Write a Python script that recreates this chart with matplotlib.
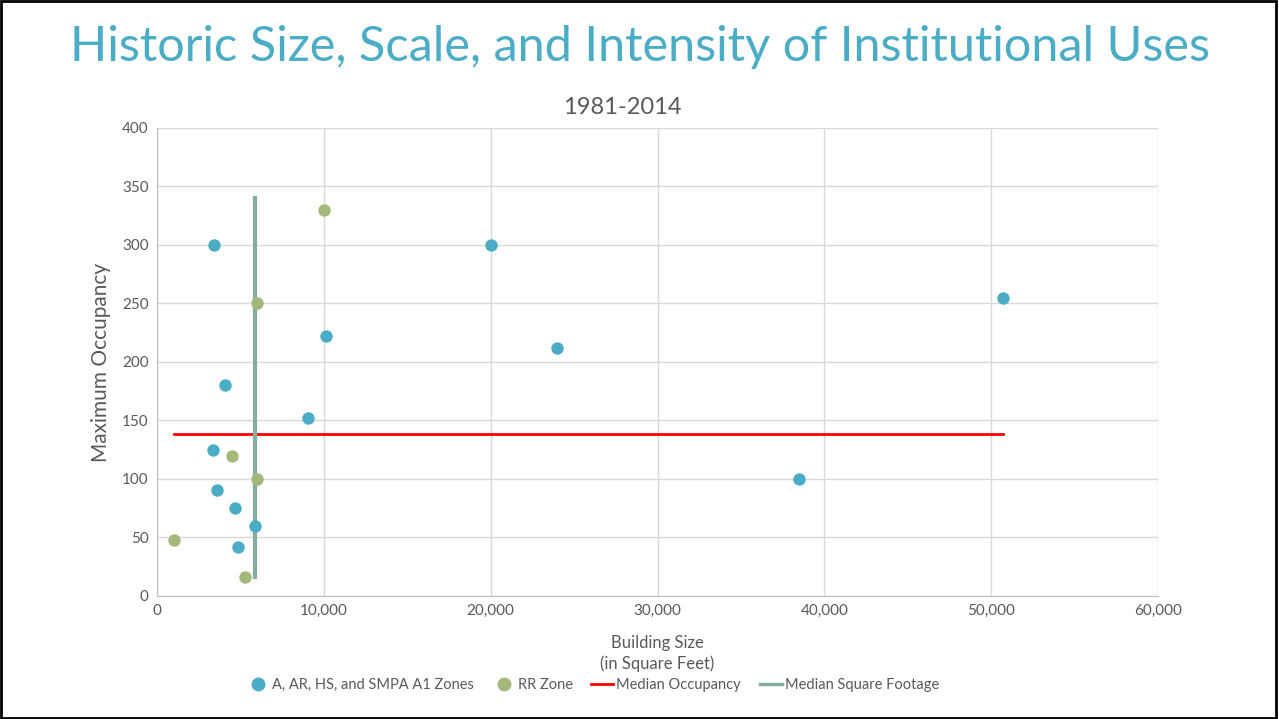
import matplotlib.pyplot as plt
from matplotlib.lines import Line2D
import matplotlib.patches as patches

# Puntos de la zona A, AR, HS y SMPA A1
zona_a_tamano = [3400, 10100, 4100, 9050, 3350, 3600, 4700, 5850, 4850, 20000, 24000, 50700, 38500]
zona_a_ocupacion = [300, 222, 180, 152, 125, 91, 75, 60, 42, 300, 212, 255, 100]

# Puntos de la zona RR
zona_rr_tamano = [10000, 6000, 4500, 6000, 1000, 5300]
zona_rr_ocupacion = [330, 250, 120, 100, 48, 16]

# Medianas
mediana_ocupacion_x = [1000, 50700]
mediana_ocupacion_y = [138.5, 138.5]
mediana_pies_x = [5850, 5850]
mediana_pies_y = [340, 16]

azul = '#4BACC6'
verde = '#A3B87A'
gris = '#595959'

plt.rcParams['font.family'] = ['Lato', 'DejaVu Sans']

fig = plt.figure(figsize=(12.79, 7.19), dpi=100)
ax = fig.add_axes([0.1228, 0.1711, 0.7826, 0.6509])

ax.plot(mediana_ocupacion_x, mediana_ocupacion_y, color='#FF0000', lw=2, zorder=2)
ax.plot(mediana_pies_x, mediana_pies_y, color='#85AE9D', lw=3, zorder=2)
ax.scatter(zona_a_tamano, zona_a_ocupacion, s=80, color=azul, zorder=3, linewidths=0)
ax.scatter(zona_rr_tamano, zona_rr_ocupacion, s=80, color=verde, zorder=3, linewidths=0)

ax.set_xlim(0, 60000)
ax.set_ylim(0, 400)
ax.set_xticks(range(0, 60001, 10000))
ax.set_yticks(range(0, 401, 50))
ax.xaxis.set_major_formatter(plt.FuncFormatter(lambda v, p: f'{int(v):,}'))
ax.grid(True, color='#D9D9D9', lw=1)
ax.set_axisbelow(True)
for s in ['top', 'right']:
    ax.spines[s].set_visible(False)
for s in ['left', 'bottom']:
    ax.spines[s].set_color('#BFBFBF')
ax.tick_params(length=0, colors=gris, labelsize=11, pad=6)

ax.set_xlabel('Building Size\n(in Square Feet)', color=gris, fontsize=12, labelpad=12, linespacing=1.35)
ax.set_ylabel('Maximum Occupancy', color=gris, fontsize=15, labelpad=8)

# titulo del grafico centrado en el area del grafico (incluye la etiqueta del eje y)
fig.text(622 / 1279, 1 - 108 / 719, '1981-2014', ha='center', va='center', color=gris, fontsize=17)

fig.text(0.5, 0.935, 'Historic Size, Scale, and Intensity of Institutional Uses',
         ha='center', va='center', color=azul, fontsize=35, fontweight='normal')

handles = [
    Line2D([], [], marker='o', ls='', color=azul, markersize=9),
    Line2D([], [], marker='o', ls='', color=verde, markersize=9),
    Line2D([], [], color='#FF0000', lw=2),
    Line2D([], [], color='#85AE9D', lw=2.5),
]
labels = ['A, AR, HS, and SMPA A1 Zones', 'RR Zone', 'Median Occupancy', 'Median Square Footage']
leg = fig.legend(handles, labels, loc='center', bbox_to_anchor=(593 / 1279, 0.047), ncol=4,
                 frameon=False, fontsize=10.5, handlelength=1.5, handletextpad=0.2, columnspacing=1.3)
for t in leg.get_texts():
    t.set_color(gris)

fig.add_artist(patches.Rectangle((0.001, 0.002), 0.997, 0.996, transform=fig.transFigure,
                                 fill=False, edgecolor='black', lw=2))

fig.savefig('out.png', dpi=100)
